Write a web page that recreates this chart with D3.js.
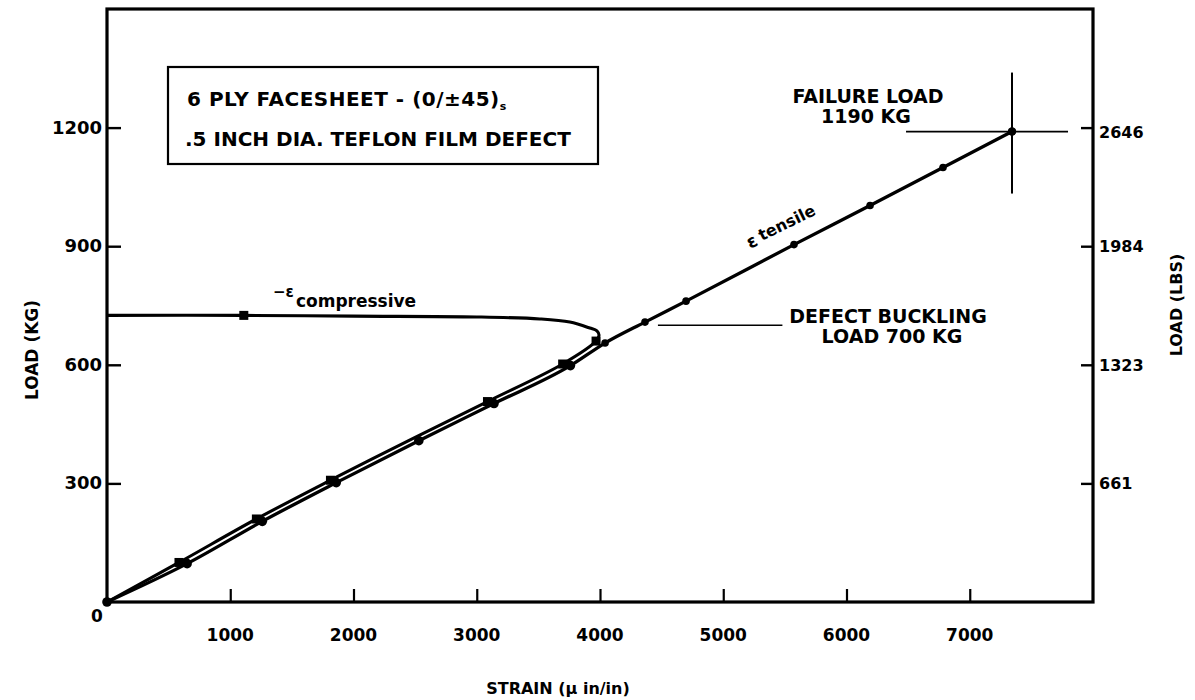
<!DOCTYPE html>
<html><head><meta charset="utf-8">
<script src="https://cdn.jsdelivr.net/npm/d3@7"></script>
<style>
body{margin:0;background:#fff}
text{font-family:"DejaVu Sans",sans-serif;font-weight:bold;fill:#000}
</style>
</head><body><svg id="chart" width="1195" height="700"></svg>
<script>
// Axis ticks
const strainTicks = [1000, 2000, 3000, 4000, 5000, 6000, 7000];
const loadTicksKg = [300, 600, 900, 1200];
const loadTicksLbs = ["661", "1323", "1984", "2646"];

// Tensile strain gauge (strain in micro-in/in, load in kg)
const tensileStrain = [0, 650, 1260, 1860, 2530, 3140, 3760, 4041, 4365, 4698, 5574, 6191, 6783, 7343];
const tensileLoad   = [0, 97, 204, 302, 408, 502, 598, 655, 708, 761, 904, 1003, 1099, 1190];

// Compressive strain gauge (absolute strain), curling back after defect buckling
const compStrain = [0, 584, 1212, 1813, 2484, 3087, 3697, 3968, 3992, 3975, 3917, 3755, 3512, 3000, 2000, 1110, 0];
const compLoad   = [0, 100, 210, 308, 414, 507, 602, 660, 675, 686, 693, 708, 716, 721, 723, 725, 725];

// Measured points on the compressive gauge
const compMarkStrain = [584, 1212, 1813, 3087, 3697, 3968, 1110];
const compMarkLoad   = [100, 210, 308, 507, 602, 660, 725];

// Annotations
const failureStrain = 7343, failureLoad = 1190;
const bucklingLoad = 700, bucklingFrom = 4470, bucklingTo = 5480;

const svg = d3.select("#chart");
const x = d3.scaleLinear().domain([0, 8000]).range([107, 1093]);
const y = d3.scaleLinear().domain([0, 1500]).range([602, 9]);

// Frame
svg.append("rect").attr("x", x(0)).attr("y", y(1500))
  .attr("width", x(8000) - x(0)).attr("height", y(0) - y(1500))
  .attr("fill", "none").attr("stroke", "#000").attr("stroke-width", 3.2);

// Bottom axis: inward ticks
const xAxis = d3.axisTop(x).tickValues(strainTicks).tickSize(13).tickSizeOuter(0).tickFormat("");
const gx = svg.append("g").attr("transform", `translate(0,${y(0)})`).call(xAxis);
gx.select(".domain").remove();
gx.selectAll(".tick line").attr("stroke", "#000").attr("stroke-width", 2.2);
svg.append("g").selectAll("text").data(strainTicks).join("text")
  .attr("x", d => x(d)).attr("y", 641).attr("text-anchor", "middle")
  .attr("font-size", 17).text(d => d);
svg.append("text").attr("x", 97).attr("y", 622).attr("text-anchor", "middle").attr("font-size", 17).text("0");

// Left axis (kg)
const yAxisL = d3.axisRight(y).tickValues(loadTicksKg).tickSize(14).tickSizeOuter(0).tickFormat("");
const gl = svg.append("g").attr("transform", `translate(${x(0)},0)`).call(yAxisL);
gl.select(".domain").remove();
gl.selectAll(".tick line").attr("stroke", "#000").attr("stroke-width", 2.4);
svg.append("g").selectAll("text").data(loadTicksKg).join("text")
  .attr("x", 102).attr("y", d => y(d) + 6).attr("text-anchor", "end")
  .attr("font-size", 18).text(d => d);

// Right axis (lbs)
const yAxisR = d3.axisLeft(y).tickValues(loadTicksKg).tickSize(12).tickSizeOuter(0).tickFormat("");
const gr = svg.append("g").attr("transform", `translate(${x(8000)},0)`).call(yAxisR);
gr.select(".domain").remove();
gr.selectAll(".tick line").attr("stroke", "#000").attr("stroke-width", 2.4);
svg.append("g").selectAll("text").data(loadTicksLbs).join("text")
  .attr("x", 1099).attr("y", (d, i) => y(loadTicksKg[i]) + 6 + (i === 3 ? 4 : 0)).attr("text-anchor", "start")
  .attr("font-size", 16).text(d => d);

// Axis titles
svg.append("text").attr("transform", "translate(38,350) rotate(-90)").attr("text-anchor", "middle")
  .attr("font-size", 17).text("LOAD (KG)");
svg.append("text").attr("transform", "translate(1182,305) rotate(-90)").attr("text-anchor", "middle")
  .attr("font-size", 16).text("LOAD (LBS)");
svg.append("text").attr("x", 558).attr("y", 694).attr("text-anchor", "middle").attr("font-size", 16)
  .text("STRAIN  (μ in/in)");

// Curves
const tensile = tensileStrain.map((s, i) => [s, tensileLoad[i]]);
const comp = compStrain.map((s, i) => [s, compLoad[i]]);
const tLine = d3.line().x(d => x(d[0])).y(d => y(d[1])).curve(d3.curveMonotoneX);
const cLine = d3.line().x(d => x(d[0])).y(d => y(d[1])).curve(d3.curveCatmullRom.alpha(0.5));
svg.append("path").attr("d", tLine(tensile)).attr("fill", "none").attr("stroke", "#000").attr("stroke-width", 3.3);
svg.append("path").attr("d", cLine(comp)).attr("fill", "none").attr("stroke", "#000").attr("stroke-width", 3.1);

// Markers
svg.append("g").selectAll("circle").data(tensile).join("circle")
  .attr("cx", d => x(d[0])).attr("cy", d => y(d[1])).attr("r", d => d[1] > 640 ? 3.8 : 4.8).attr("fill", "#000");
svg.append("g").selectAll("rect").data(compMarkStrain.map((s, i) => [s, compMarkLoad[i]])).join("rect")
  .attr("x", d => x(d[0]) - 4.5).attr("y", d => y(d[1]) - 4.5).attr("width", 9).attr("height", 9).attr("fill", "#000");

// Failure crosshair
const fx = x(failureStrain), fy = y(failureLoad);
svg.append("line").attr("x1", fx).attr("x2", fx).attr("y1", fy - 59).attr("y2", fy + 62).attr("stroke", "#000").attr("stroke-width", 2);
svg.append("line").attr("x1", fx - 106).attr("x2", fx + 56).attr("y1", fy).attr("y2", fy).attr("stroke", "#000").attr("stroke-width", 1.8);
svg.append("circle").attr("cx", fx).attr("cy", fy).attr("r", 4.2).attr("fill", "#000");
svg.append("text").attr("x", 868).attr("y", 103).attr("text-anchor", "middle").attr("font-size", 19).text("FAILURE LOAD");
svg.append("text").attr("x", 866).attr("y", 123).attr("text-anchor", "middle").attr("font-size", 19).text("1190 KG");

// Defect buckling leader
svg.append("line").attr("x1", x(bucklingFrom)).attr("x2", x(bucklingTo)).attr("y1", y(bucklingLoad)).attr("y2", y(bucklingLoad))
  .attr("stroke", "#000").attr("stroke-width", 1.6);
svg.append("text").attr("x", 888).attr("y", 323).attr("text-anchor", "middle").attr("font-size", 19).text("DEFECT BUCKLING");
svg.append("text").attr("x", 892).attr("y", 343).attr("text-anchor", "middle").attr("font-size", 19).text("LOAD 700 KG");

// Curve labels
const cl = svg.append("text").attr("x", 273).attr("y", 307).attr("font-size", 17);
cl.append("tspan").attr("dy", -10).attr("font-size", 15).text("−ε");
cl.append("tspan").attr("dy", 10).attr("dx", 2).text("compressive");
const tl = svg.append("text").attr("transform", "translate(750,249) rotate(-26)").attr("font-size", 16);
tl.append("tspan").attr("font-size", 18).text("ε");
tl.append("tspan").attr("dx", 4).attr("dy", -2).text("tensile");

// Specimen box
svg.append("rect").attr("x", 168).attr("y", 67).attr("width", 430).attr("height", 97)
  .attr("fill", "#fff").attr("stroke", "#000").attr("stroke-width", 2.2);
const t1 = svg.append("text").attr("x", 187).attr("y", 106).attr("font-size", 20).attr("letter-spacing", 0.5);
t1.append("tspan").text("6 PLY FACESHEET - (0/±45)");
t1.append("tspan").attr("font-size", 11).attr("dy", 4).text("s");
svg.append("text").attr("x", 185).attr("y", 146).attr("font-size", 20)
  .text(".5 INCH DIA.  TEFLON FILM DEFECT");
</script></body></html>
